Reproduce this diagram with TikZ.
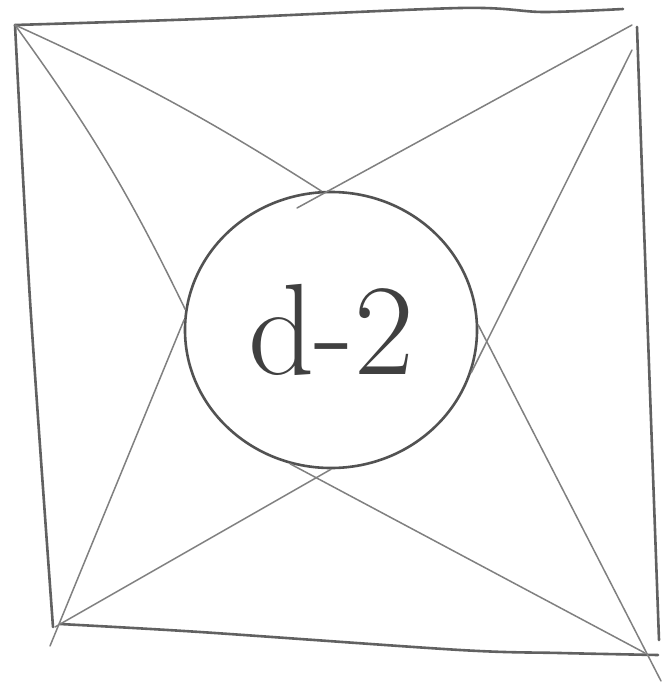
\documentclass[tikz,border=0pt]{standalone}
\usepackage{fontspec}
\usetikzlibrary{shapes.geometric}
\begin{document}
\begin{tikzpicture}[x=1pt,y=-1pt,
    edge/.style={draw=black!62, line width=2.6pt, line cap=round, line join=round},
    spoke/.style={draw=black!50, line width=1.5pt, line cap=round},
    ring/.style={ellipse, draw=black!68, line width=2.6pt, inner sep=0pt,
      minimum width=292pt, minimum height=276pt, text=black!75,
      font=\fontsize{130}{130}\selectfont}]
        \useasboundingbox[fill=white] (0,0) rectangle (662,688);

        % Corners
        \coordinate (tl) at (15,25);
        \coordinate (tr) at (632,25);
        \coordinate (br) at (645,653);
        \coordinate (brx) at (661,681);
        \coordinate (bl) at (55,627);
        \coordinate (blx) at (50,646);

        % Square (hand drawn)
        \draw[edge] plot[smooth] coordinates {(tl) (200,19) (460,8) (543,12) (623,9)};
        \draw[edge] (637,27) -- (643,200) -- (659,640);
        \draw[edge] plot[smooth] coordinates {(60,624) (200,632) (460,650) (560,653) (658,655)};
        \draw[edge] plot[smooth] coordinates {(tl) (30,300) (53,627)};

        % Circle
        \node[ring] (hole) at (331,330) {d-2};
        \coordinate (trin) at (297,208);

        % Spokes
        \draw[spoke] (tl) to[bend left=4] (hole.94);
        \draw[spoke] (tl) to[bend left=5] (hole.172);
        \draw[spoke] (tr) -- (trin);
        \draw[spoke] (632,50) -- (hole.343);
        \draw[spoke] (brx) -- (hole.2);
        \draw[spoke] (br) -- (hole.253);
        \draw[spoke] (bl) -- (hole.270);
        \draw[spoke] (blx) -- (hole.176);
    \end{tikzpicture}
\end{document}
